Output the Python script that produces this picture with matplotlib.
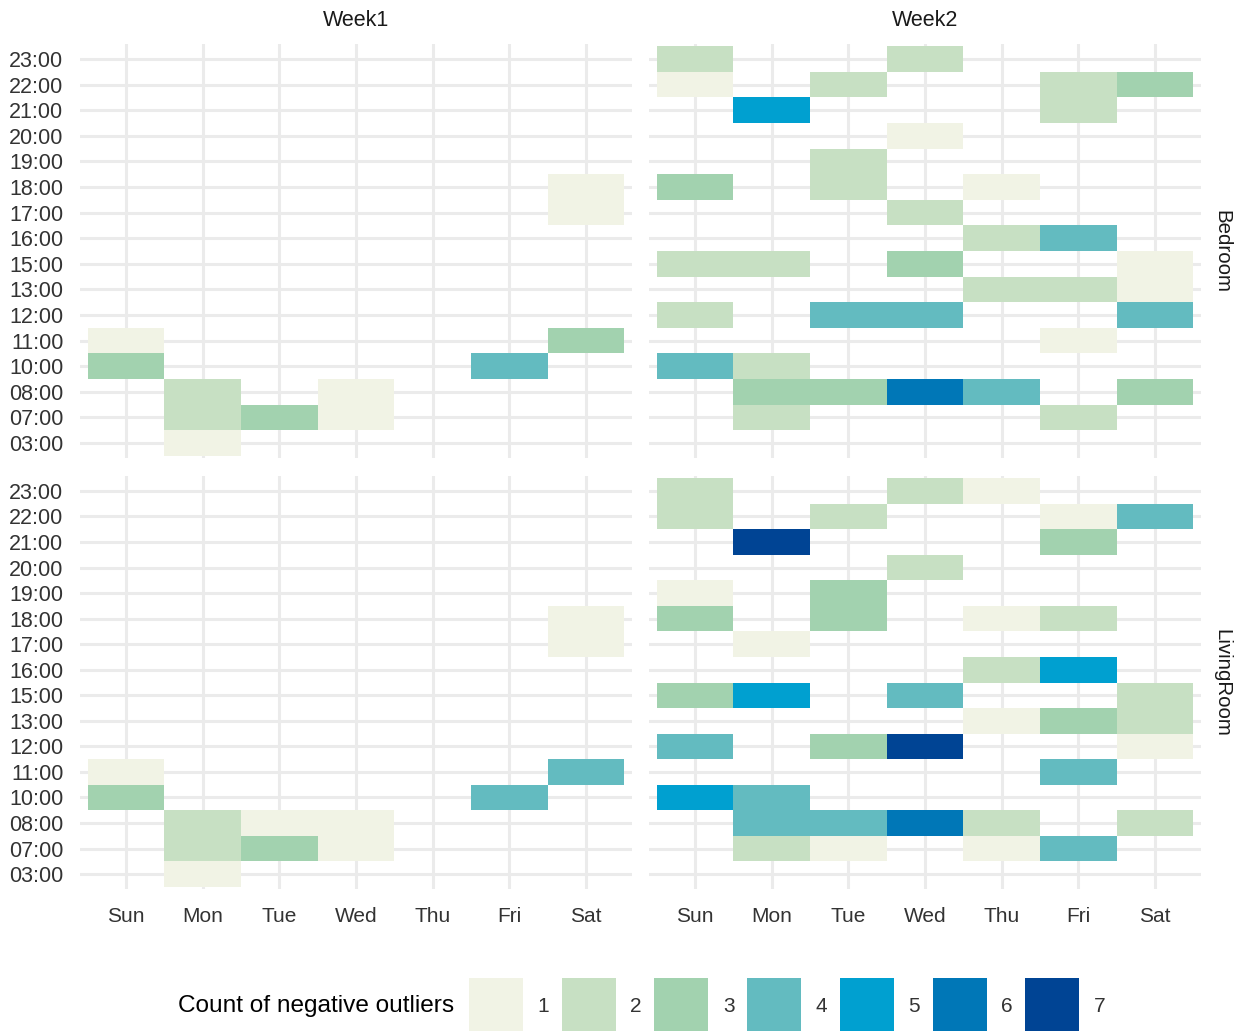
import numpy as np
import matplotlib
matplotlib.use("Agg")
import matplotlib.pyplot as plt
from matplotlib.colors import ListedColormap, BoundaryNorm

plt.rcParams['font.family'] = ['Liberation Sans', 'DejaVu Sans']

hours = ["03:00", "07:00", "08:00", "10:00", "11:00", "12:00", "13:00", "15:00",
         "16:00", "17:00", "18:00", "19:00", "20:00", "21:00", "22:00", "23:00"]
days = ["Sun", "Mon", "Tue", "Wed", "Thu", "Fri", "Sat"]
weeks = ["Week1", "Week2"]
rooms = ["Bedroom", "LivingRoom"]
levels = [1, 2, 3, 4, 5, 6, 7]
colours = ["#F1F3E5", "#C7E0C3", "#A2D2AF", "#63BBC0", "#00A0D0", "#0077B7", "#004494"]

# (day, hour, count)
bedroom_week1 = [
    ("Sun", "11:00", 1), ("Sun", "10:00", 3),
    ("Mon", "08:00", 2), ("Mon", "07:00", 2), ("Mon", "03:00", 1),
    ("Tue", "07:00", 3),
    ("Wed", "08:00", 1), ("Wed", "07:00", 1),
    ("Fri", "10:00", 4),
    ("Sat", "18:00", 1), ("Sat", "17:00", 1), ("Sat", "11:00", 3),
]
bedroom_week2 = [
    ("Sun", "23:00", 2), ("Sun", "22:00", 1), ("Sun", "18:00", 3), ("Sun", "15:00", 2),
    ("Sun", "12:00", 2), ("Sun", "10:00", 4),
    ("Mon", "21:00", 5), ("Mon", "15:00", 2), ("Mon", "10:00", 2), ("Mon", "08:00", 3),
    ("Mon", "07:00", 2),
    ("Tue", "22:00", 2), ("Tue", "19:00", 2), ("Tue", "18:00", 2), ("Tue", "12:00", 4),
    ("Tue", "08:00", 3),
    ("Wed", "23:00", 2), ("Wed", "20:00", 1), ("Wed", "17:00", 2), ("Wed", "15:00", 3),
    ("Wed", "12:00", 4), ("Wed", "08:00", 6),
    ("Thu", "18:00", 1), ("Thu", "16:00", 2), ("Thu", "13:00", 2), ("Thu", "08:00", 4),
    ("Fri", "22:00", 2), ("Fri", "21:00", 2), ("Fri", "16:00", 4), ("Fri", "13:00", 2),
    ("Fri", "11:00", 1), ("Fri", "07:00", 2),
    ("Sat", "22:00", 3), ("Sat", "15:00", 1), ("Sat", "13:00", 1), ("Sat", "12:00", 4),
    ("Sat", "08:00", 3),
]
living_week1 = [
    ("Sun", "11:00", 1), ("Sun", "10:00", 3),
    ("Mon", "08:00", 2), ("Mon", "07:00", 2), ("Mon", "03:00", 1),
    ("Tue", "08:00", 1), ("Tue", "07:00", 3),
    ("Wed", "08:00", 1), ("Wed", "07:00", 1),
    ("Fri", "10:00", 4),
    ("Sat", "18:00", 1), ("Sat", "17:00", 1), ("Sat", "11:00", 4),
]
living_week2 = [
    ("Sun", "23:00", 2), ("Sun", "22:00", 2), ("Sun", "19:00", 1), ("Sun", "18:00", 3),
    ("Sun", "15:00", 3), ("Sun", "12:00", 4), ("Sun", "10:00", 5),
    ("Mon", "21:00", 7), ("Mon", "17:00", 1), ("Mon", "15:00", 5), ("Mon", "10:00", 4),
    ("Mon", "08:00", 4), ("Mon", "07:00", 2),
    ("Tue", "22:00", 2), ("Tue", "19:00", 3), ("Tue", "18:00", 3), ("Tue", "12:00", 3),
    ("Tue", "08:00", 4), ("Tue", "07:00", 1),
    ("Wed", "23:00", 2), ("Wed", "20:00", 2), ("Wed", "15:00", 4), ("Wed", "12:00", 7),
    ("Wed", "08:00", 6),
    ("Thu", "23:00", 1), ("Thu", "18:00", 1), ("Thu", "16:00", 2), ("Thu", "13:00", 1),
    ("Thu", "08:00", 2), ("Thu", "07:00", 1),
    ("Fri", "22:00", 1), ("Fri", "21:00", 3), ("Fri", "18:00", 2), ("Fri", "16:00", 5),
    ("Fri", "13:00", 3), ("Fri", "11:00", 4), ("Fri", "07:00", 4),
    ("Sat", "22:00", 4), ("Sat", "15:00", 2), ("Sat", "13:00", 2), ("Sat", "12:00", 1),
    ("Sat", "08:00", 2),
]
panels = {("Bedroom", "Week1"): bedroom_week1, ("Bedroom", "Week2"): bedroom_week2,
          ("LivingRoom", "Week1"): living_week1, ("LivingRoom", "Week2"): living_week2}

W, H = 1237, 1031
fig = plt.figure(figsize=(W / 100, H / 100), dpi=100)
cmap = ListedColormap(colours)
norm = BoundaryNorm(np.arange(0.5, 8.5), cmap.N)

# panel boxes in pixels: (left, right), (top, bottom)
xs = {"Week1": (80, 632), "Week2": (649, 1201)}
ys = {"Bedroom": (43.6, 458.4), "LivingRoom": (475.6, 889.4)}
grid_c = "#EBEBEB"
txt_c = "#333333"

for room in rooms:
    for week in weeks:
        l, r = xs[week]
        t, b = ys[room]
        ax = fig.add_axes([l / W, 1 - b / H, (r - l) / W, (b - t) / H])
        mat = np.full((len(hours), len(days)), np.nan)
        for d, h, c in panels[(room, week)]:
            mat[hours.index(h), days.index(d)] = c
        ax.pcolormesh(np.arange(len(days) + 1) - 0.5, np.arange(len(hours) + 1) - 0.5,
                      np.ma.masked_invalid(mat), cmap=cmap, norm=norm, zorder=2)
        ax.set_xlim(-0.6, len(days) - 0.4)
        ax.set_ylim(-0.6, len(hours) - 0.4)
        ax.set_xticks(range(len(days)))
        ax.set_yticks(range(len(hours)))
        ax.grid(True, color=grid_c, lw=2.2, zorder=0)
        ax.set_axisbelow(True)
        for s in ax.spines.values():
            s.set_visible(False)
        ax.tick_params(axis="y", length=0, labelsize=15.5, labelcolor=txt_c, pad=12)
        ax.tick_params(axis="x", length=0, labelsize=15, labelcolor=txt_c, pad=13)
        if room == "LivingRoom":
            ax.set_xticklabels(days)
        else:
            ax.set_xticklabels([])
        if week == "Week1":
            ax.set_yticklabels(hours)
        else:
            ax.set_yticklabels([])

for week in weeks:
    l, r = xs[week]
    fig.text((l + r) / 2 / W, 1 - 20 / H, week, ha="center", va="center",
             fontsize=15.5, color="#1A1A1A")
for room in rooms:
    t, b = ys[room]
    fig.text(1222 / W, 1 - (t + b) / 2 / H, room, ha="center", va="center",
             rotation=-90, fontsize=14.8, color="#1A1A1A")

# legend
fig.text(178 / W, 1 - 1006 / H, "Count of negative outliers", ha="left", va="center",
         fontsize=17.6, color="black")
lax = fig.add_axes([0, 0, 1, 1], zorder=-1)
lax.set_xlim(0, W)
lax.set_ylim(H, 0)
lax.axis("off")
key_left = 469 + 92.7 * np.arange(len(levels))
lax.bar(key_left, 55, width=54, bottom=978, align="edge", color=colours)
for x, lv in zip(key_left, levels):
    lax.text(x + 74.5, 1006, str(lv), ha="center", va="center", fontsize=15, color=txt_c)

fig.savefig("out.png", dpi=100)
